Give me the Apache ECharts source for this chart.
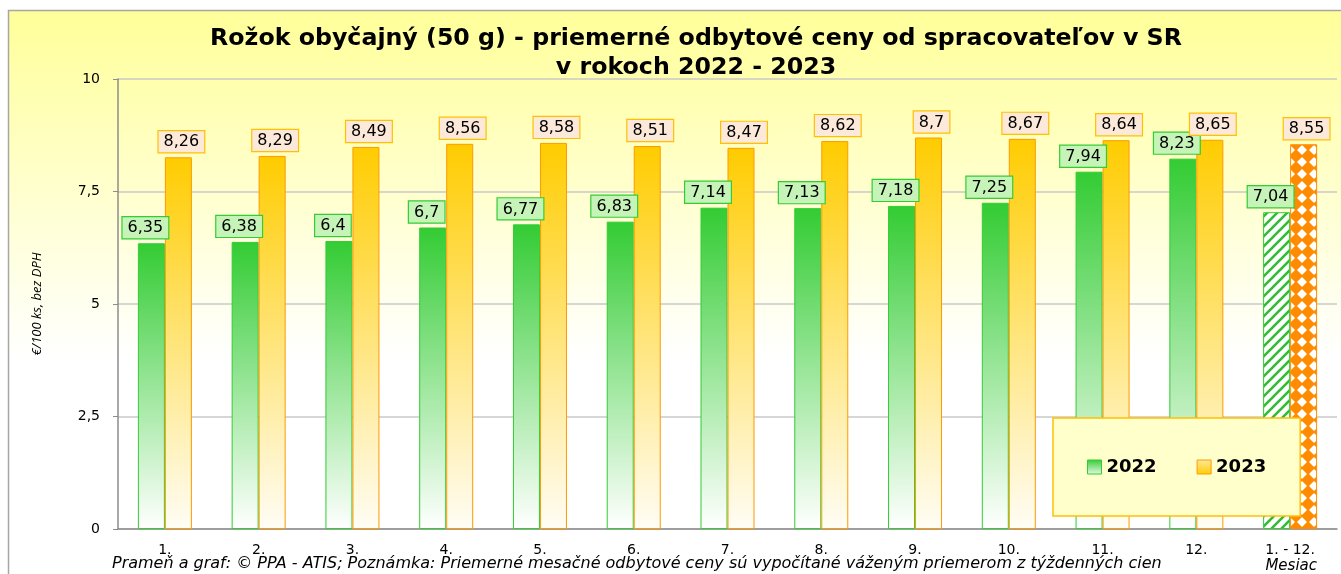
<!DOCTYPE html>
<html>
<head>
<meta charset="utf-8">
<script src="https://cdn.jsdelivr.net/npm/echarts@6/dist/echarts.min.js"></script>
<style>
  html, body { margin: 0; padding: 0; background: #fff; }
  #chart { width: 1341px; height: 574px; }
</style>
</head>
<body>
<div id="chart"></div>
<script>
var months = ['1.', '2.', '3.', '4.', '5.', '6.', '7.', '8.', '9.', '10.', '11.', '12.', '1. - 12.'];
var prices2022 = [6.35, 6.38, 6.4, 6.7, 6.77, 6.83, 7.14, 7.13, 7.18, 7.25, 7.94, 8.23, 7.04];
var prices2023 = [8.26, 8.29, 8.49, 8.56, 8.58, 8.51, 8.47, 8.62, 8.7, 8.67, 8.64, 8.65, 8.55];
var yTicks = [0, 2.5, 5, 7.5, 10];

function fmt(v) { return String(v).replace('.', ','); }

// hatch fills for the yearly average
function stripes() {
  var c = document.createElement('canvas');
  c.width = 10; c.height = 10;
  var g = c.getContext('2d');
  g.fillStyle = '#fff'; g.fillRect(0, 0, 10, 10);
  g.strokeStyle = '#33bb33'; g.lineWidth = 2.6;
  g.beginPath();
  g.moveTo(-2, 12); g.lineTo(12, -2);
  g.moveTo(-7, 7); g.lineTo(7, -7);
  g.moveTo(3, 17); g.lineTo(17, 3);
  g.stroke();
  return c;
}
function diamonds() {
  var c = document.createElement('canvas');
  c.width = 12; c.height = 12;
  var g = c.getContext('2d');
  g.fillStyle = '#ff8c00'; g.fillRect(0, 0, 12, 12);
  g.fillStyle = '#fff';
  g.beginPath();
  g.moveTo(6, 1); g.lineTo(11, 6); g.lineTo(6, 11); g.lineTo(1, 6);
  g.closePath(); g.fill();
  return c;
}

function grad(top, bottom) {
  return new echarts.graphic.LinearGradient(0, 0, 0, 1, [
    { offset: 0, color: top }, { offset: 1, color: bottom }
  ]);
}

var green = grad('#33cc33', '#ffffff');
var orange = grad('#ffcc00', '#fffdf5');

function makeData(values, lastFill, border) {
  return values.map(function (v, i) {
    if (i < values.length - 1) return v;
    return { value: v, itemStyle: { color: { image: lastFill, repeat: 'repeat' }, borderColor: border } };
  });
}

var chart = echarts.init(document.getElementById('chart'));
chart.setOption({
  animation: false,
  textStyle: { fontFamily: 'DejaVu Sans' },
  graphic: [{
    type: 'rect', z: -10, silent: true,
    shape: { x: 8.5, y: 10.5, width: 1345, height: 580 },
    style: {
      fill: new echarts.graphic.LinearGradient(0, 0, 0, 1, [
        { offset: 0, color: '#ffff99' }, { offset: 0.6, color: '#ffffff' }, { offset: 1, color: '#ffffff' }
      ]),
      stroke: '#a6a6a6', lineWidth: 1.5
    }
  }, {
    type: 'text', left: 112, top: 556,
    style: {
      text: 'Prameň a graf: © PPA - ATIS; Poznámka: Priemerné mesačné odbytové ceny sú vypočítané váženým priemerom z týždenných cien',
      font: 'italic 16px "DejaVu Sans"', fill: '#000'
    }
  }],
  title: {
    text: 'Rožok obyčajný (50 g) - priemerné odbytové ceny od spracovateľov v SR\nv rokoch 2022 - 2023',
    left: 691, top: 19,
    textAlign: 'center',
    textStyle: { fontFamily: 'DejaVu Sans', fontSize: 23.7, fontWeight: 'bold', color: '#000', lineHeight: 29 }
  },
  legend: {
    left: 1053, top: 418,
    padding: [40, 34],
    itemGap: 40,
    itemWidth: 14, itemHeight: 14,
    backgroundColor: '#ffffcc',
    borderColor: '#ffc000', borderWidth: 1.5,
    textStyle: { fontSize: 18, fontWeight: 'bold', color: '#000' },
    data: [
      { name: '2022', icon: 'rect', itemStyle: { color: grad('#33cc33', '#e8f8e8'), borderColor: '#33cc33', borderWidth: 1 } },
      { name: '2023', icon: 'rect', itemStyle: { color: grad('#ffe9a0', '#ffcc00'), borderColor: '#ff9900', borderWidth: 1 } }
    ],
    z: 10
  },
  grid: { left: 118, right: 4, top: 79, bottom: 45 },
  xAxis: {
    type: 'category',
    data: months,
    name: 'Mesiac',
    nameLocation: 'end',
    nameGap: 0,
    nameTextStyle: { fontFamily: 'DejaVu Sans', fontStyle: 'italic', fontSize: 15, color: '#000', verticalAlign: 'top', align: 'right', padding: [30, 20, 0, 0] },
    axisLine: { lineStyle: { color: '#8c8c8c', width: 1.5 } },
    axisTick: { show: false },
    axisLabel: { color: '#000', fontSize: 14, margin: 14 }
  },
  yAxis: {
    type: 'value',
    min: yTicks[0], max: yTicks[yTicks.length - 1], interval: 2.5,
    name: '€/100 ks, bez DPH',
    nameLocation: 'middle',
    nameGap: 74,
    nameRotate: 90,
    nameTextStyle: { fontFamily: 'Open Sans', fontStyle: 'italic', fontSize: 13, color: '#000' },
    axisLine: { show: true, lineStyle: { color: '#8c8c8c', width: 1.5 } },
    axisTick: { show: true, length: 5, lineStyle: { color: '#8c8c8c' } },
    axisLabel: { color: '#000', fontSize: 14, margin: 18, formatter: function (v) { return fmt(v); } },
    splitLine: { lineStyle: { color: '#c8c8c8', width: 1.5 } }
  },
  series: [{
    name: '2022',
    type: 'bar',
    barWidth: 27,
    barGap: '0%',
    data: makeData(prices2022, stripes(), '#33cc33'),
    itemStyle: { color: green, borderColor: '#33cc33', borderWidth: 1 },
    label: {
      show: true, position: 'top', distance: 5, offset: [-6, 0],
      formatter: function (p) { return fmt(p.value); },
      fontSize: 16, color: '#000',
      backgroundColor: '#c6f4b8', borderColor: '#33cc33', borderWidth: 1.2,
      padding: [3, 5, 2, 5]
    }
  }, {
    name: '2023',
    type: 'bar',
    barWidth: 27,
    data: makeData(prices2023, diamonds(), '#ff8c00'),
    itemStyle: { color: orange, borderColor: '#ff9900', borderWidth: 1 },
    label: {
      show: true, position: 'top', distance: 5, offset: [3, 0],
      formatter: function (p) { return fmt(p.value); },
      fontSize: 16, color: '#000',
      backgroundColor: '#fde9d9', borderColor: '#ffc000', borderWidth: 1.2,
      padding: [3, 5, 2, 5]
    }
  }]
});
</script>
</body>
</html>
